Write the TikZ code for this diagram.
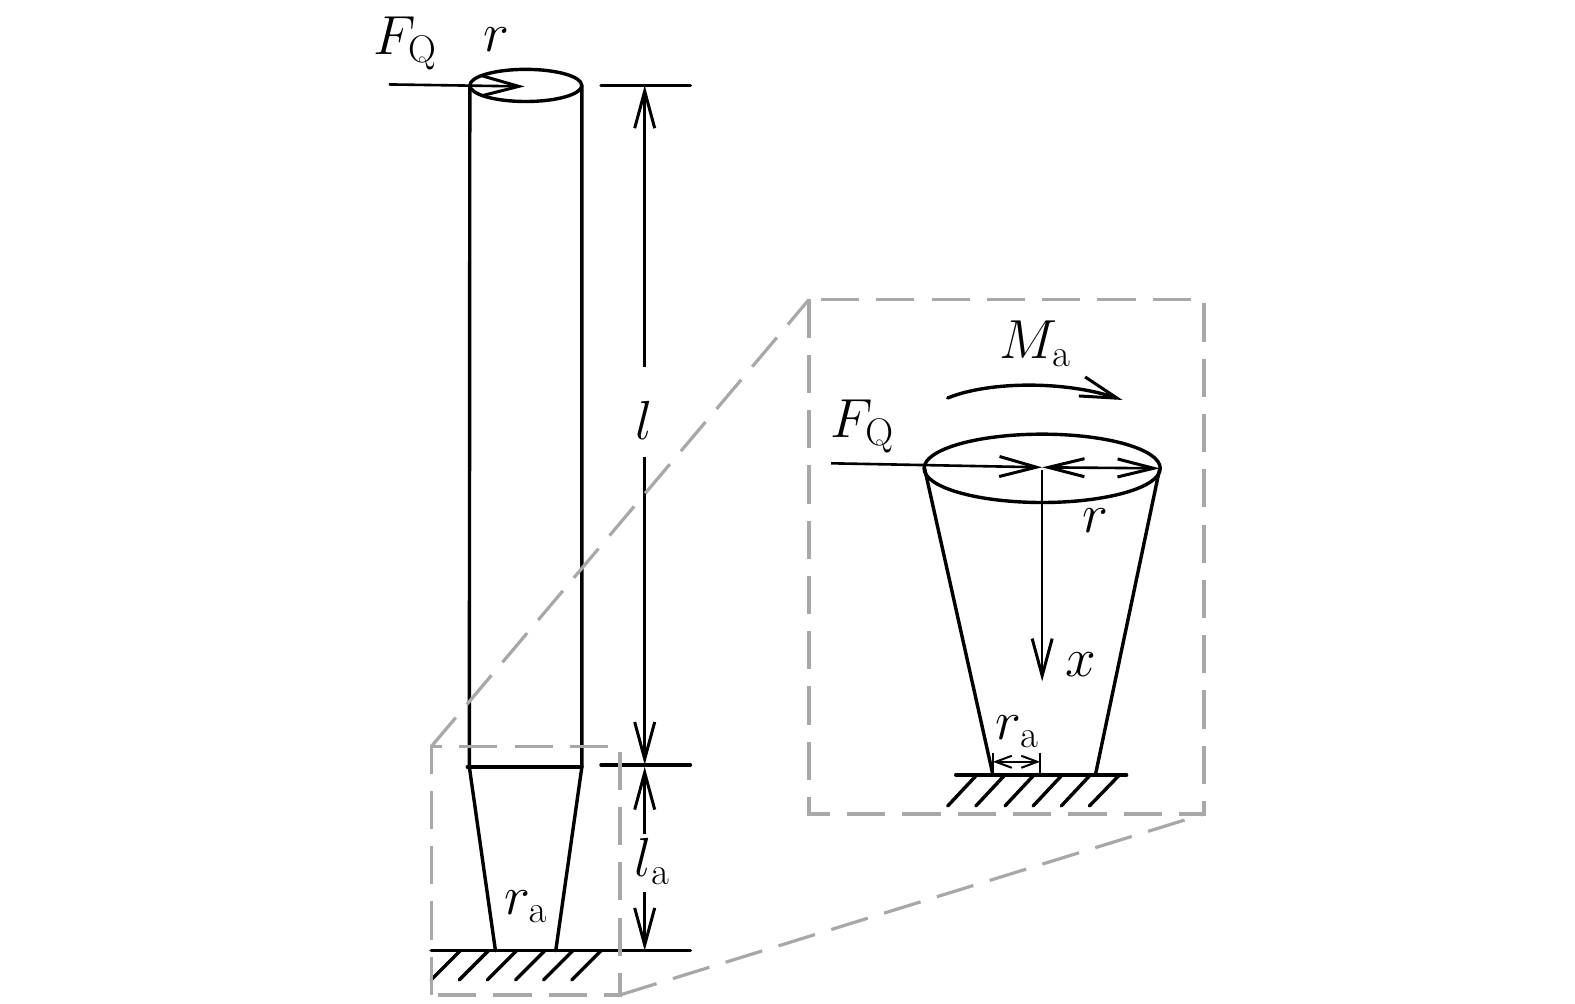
\documentclass[tikz,border=0pt]{standalone}
\usepackage{fix-cm}
\usetikzlibrary{arrows.meta}
\tikzset{
  px/.style={x=0.5bp,y=-0.5bp},
  body/.style={line width=1.7pt,line cap=round,line join=round,black},
  thin line/.style={line width=1.3pt,black},
  zoombox/.style={line width=1.6pt,draw=zoomgray,dash pattern=on 19bp off 8.5bp},
  bigtip/.style={-{Straight Barb[length=18.5pt,width=10pt,line width=1.5pt]}},
  tiptwo/.style={{Straight Barb[length=18pt,width=9pt,line width=1.5pt]}-{Straight Barb[length=18pt,width=9pt,line width=1.5pt]}},
  smalltip/.style={{Straight Barb[length=8pt,width=6pt,line width=1pt]}-{Straight Barb[length=8pt,width=6pt,line width=1pt]}},
  lab/.style={inner sep=0pt,font=\fontsize{27.5}{32}\selectfont},
}
\definecolor{zoomgray}{HTML}{A8A8A8}
\begin{document}
\begin{tikzpicture}[px]
\useasboundingbox (0,0) rectangle (1567.2,999);
% left column
\coordinate (tl) at (467.5,85); \coordinate (tr) at (579,85);
\coordinate (ml) at (467,763); \coordinate (mr) at (579,763);
\coordinate (bl) at (493,946); \coordinate (br) at (553,946);
\draw[body] (523.2,85) ellipse [x radius=55.7,y radius=16];
\draw[body] (tl) -- (ml) -- (bl);
\draw[body] (tr) -- (mr) -- (br);
\draw[body] (465,763) -- (mr);
% left dimensions
\draw[body] (598,85) -- (687,85);
\draw[body] (598,761) -- (687,761);
\draw[body] (429,946) -- (687,946);
\foreach \a/\b in {458/429,486/457,514/485,542/513,570/541,598/569}
  \draw[body] (\a,946) -- (\b,975);
\node[lab] (l) at (641,418) {$l$};
\node[lab] (la) at (649,857) {$l_{\mathrm{a}}$};
\coordinate (d1) at (641.5,85); \coordinate (d2) at (641.5,761); \coordinate (d3) at (641.5,763); \coordinate (d4) at (641.5,946);
\draw[thin line,bigtip] (641.5,365) -- (d1);
\draw[thin line,bigtip] (641.5,455) -- (d2);
\draw[thin line,bigtip] (641.5,830) -- (d3);
\draw[thin line,bigtip] (641.5,888) -- (d4);
\coordinate (f1) at (387,84);\coordinate (f1e) at (522,86);
\draw[thin line,bigtip] (f1) -- (f1e);
\node[lab] (fq1) at (403,43) {$F_{\mathrm{Q}}$};
\node[lab] (r1) at (494,39) {$r$};
\node[lab] (ra1) at (523,902) {$r_{\mathrm{a}}$};
% zoom frames
\draw[zoombox] (429,990) -- (429,743) -- (617,743) -- (617,990) -- cycle;
\draw[zoombox] (805,298) rectangle (1198,810);
\draw[zoombox] (429,743) -- (805,298);
\draw[zoombox] (617,990) -- (1198,810);
% right detail
\coordinate (c) at (1037,465);
\draw[body] (1037,466) ellipse [x radius=117.5,y radius=34];
\draw[body] (920,466) -- (988,771);
\draw[body] (1154,466) -- (1090,771);
\draw[body] (951,771) -- (1121,771);
\foreach \a/\b in {972/943,1000/971,1029/1000,1057/1028,1085/1056,1114/1084}
  \draw[body] (\a,771) -- (\b,802);
\coordinate (f2) at (827,461);
\draw[thin line,bigtip] (f2) -- (c);
\draw[thin line,tiptwo] (c) -- (1154,466);
\draw[thin line,bigtip] (1037,468) -- (1037,678);
\draw[body,bigtip] (943,396) .. controls (985,379) and (1060,379) .. (1117,398);
\draw[thin line] (988,749) -- (988,771);
\draw[thin line] (1035,749) -- (1035,771);
\draw[line width=1pt,smalltip] (988,758) -- (1035,758);
\node[lab] (ma) at (1030,342) {$M_{\mathrm{a}}$};
\node[lab] (fq2) at (858,424) {$F_{\mathrm{Q}}$};
\node[lab] (r2) at (1090,518) {$r$};
\node[lab] (x) at (1075,661) {$x$};
\node[lab] (ra2) at (1012,728) {$r_{\mathrm{a}}$};
\end{tikzpicture}
\end{document}
